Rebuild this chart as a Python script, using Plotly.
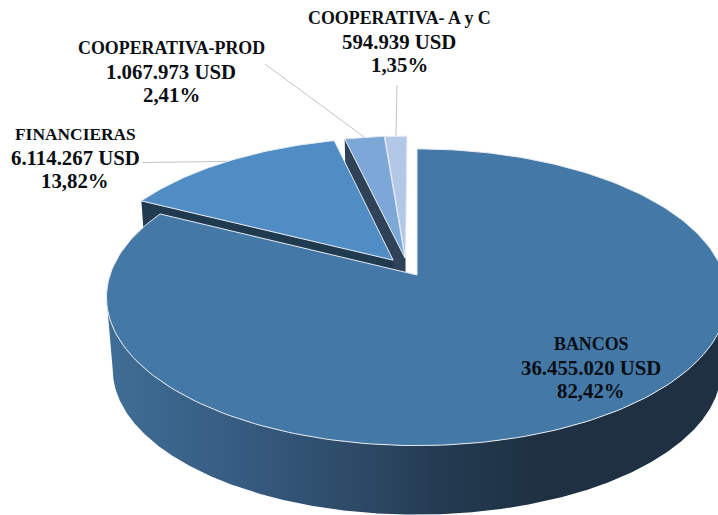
import numpy as np
import plotly.graph_objects as go

# Data
categories = ["BANCOS", "FINANCIERAS", "COOPERATIVA-PROD", "COOPERATIVA- A y C"]
values = [36455020, 6114267, 1067973, 594939]
percent_labels = ["82,42%", "13,82%", "2,41%", "1,35%"]

# Style / layout
top_colors = ["#4478A7", "#508DC4", "#7CA8D8", "#B2C8E6"]
wall_colors = [None, "#203A50", "#2F4258", "#3B4B5C"]
explode = [(0.0, 0.0), (-0.079, 0.104), (-0.04, 0.12), (-0.038, 0.118)]
label_pos = [(591, 344), (75, 134), (171, 48), (399, 18)]
name_sizes = [17.9, 17.4, 17.9, 17.9]
LINE_STEP = 23
W, H = 718, 515
CX, CY, RX, RY, K = 417, 275, 307, 145, 0.15
DEPTH, SHRINK = 72.5, 0.98
FONT = "Liberation Serif"


def project(u, v, bottom=False):
    u, v = np.asarray(u, float), np.asarray(v, float)
    den = 1 + K * v
    s = SHRINK if bottom else 1.0
    d = DEPTH if bottom else 0.0
    return CX + s * RX * u / den, CY + d - s * RY * v / den


def unit(deg):
    r = np.radians(deg)
    return np.sin(r), np.cos(r)


def fmt(n):
    return f"{n:,}".replace(",", ".")


total = sum(values)
edges = np.concatenate([[0.0], np.cumsum(values) / total * 360.0])

fig = go.Figure()

# Draw order: small slices (back) first, BANCOS last
for i in [3, 2, 1, 0]:
    a0, a1 = edges[i], edges[i + 1]
    ou, ov = explode[i]
    arc = np.linspace(a0, a1, 240 if i == 0 else 60)
    au, av = unit(arc)
    au, av = au + ou, av + ov

    if i > 0:
        # radial side wall along the slice's left edge
        eu = np.array([ou, au[0]])
        ev = np.array([ov, av[0]])
        tx, ty = project(eu, ev)
        bx, by = project(eu, ev, bottom=True)
        fig.add_trace(go.Scatter(
            x=np.r_[tx, bx[::-1]], y=np.r_[ty, by[::-1]], mode="lines", fill="toself",
            fillcolor=wall_colors[i], line=dict(width=0), hoverinfo="skip", showlegend=False))
    else:
        # outer wall of BANCOS with a horizontal gradient
        full = np.linspace(0, 360, 1441)
        fu, fv = unit(full)
        tx, ty = project(fu, fv)
        bx, by = project(fu, fv, bottom=True)

        def span(x, y):
            l, r = np.argmin(x), np.argmax(x)
            return x[r:l + 1], y[r:l + 1]
        txs, tys = span(tx, ty)
        bxs, bys = span(bx, by)
        fig.add_trace(go.Scatter(
            x=np.r_[txs, bxs[::-1]], y=np.r_[tys, bys[::-1]], mode="lines", fill="toself",
            fillgradient=dict(type="horizontal", start=106, stop=724, colorscale=[
                [0.0, "#3F6E96"], [0.22, "#365B80"], [0.45, "#2A4560"],
                [0.55, "#233A50"], [0.72, "#1E3041"], [1.0, "#1E3041"]]),
            line=dict(width=0), hoverinfo="skip", showlegend=False))

    # top surface
    x, y = project(np.r_[ou, au, ou], np.r_[ov, av, ov])
    fig.add_trace(go.Scatter(
        x=x, y=y, mode="lines", fill="toself", fillcolor=top_colors[i],
        line=dict(width=1, color="#E6EBF2"), hoverinfo="skip", showlegend=False))

# Leader lines from the small slices to their labels
leader_starts = {1: (142, 162.5), 2: (265, 64), 3: (397, 85)}
for i, (sx, sy) in leader_starts.items():
    mid = (edges[i] + edges[i + 1]) / 2
    mu, mv = unit(mid)
    ex, ey = project(mu + explode[i][0], mv + explode[i][1])
    fig.add_trace(go.Scatter(x=[sx, float(ex)], y=[sy, float(ey)], mode="lines",
                             line=dict(width=1, color="#C4C4C4"),
                             hoverinfo="skip", showlegend=False))

for name, val, pct, (lx, ly), nsize in zip(categories, values, percent_labels, label_pos, name_sizes):
    lines = [(name, nsize), (f"{fmt(val)} USD", 20.8), (pct, 20.8)]
    for k, (txt, size) in enumerate(lines):
        fig.add_annotation(x=lx, y=ly + k * LINE_STEP, xref="x", yref="y", showarrow=False,
                           text=f"<b>{txt}</b>",
                           font=dict(family=FONT, size=size, color="#0B0F14"), align="center")

fig.update_layout(
    width=W, height=H, margin=dict(l=0, r=0, t=0, b=0), paper_bgcolor="white",
    plot_bgcolor="white", showlegend=False,
    xaxis=dict(range=[0, W], visible=False, fixedrange=True),
    yaxis=dict(range=[H, 0], visible=False, fixedrange=True),
)
fig.write_html("out.html", config={"displayModeBar": False},
               post_script="document.body.style.margin='0';document.body.style.overflow='hidden';")
